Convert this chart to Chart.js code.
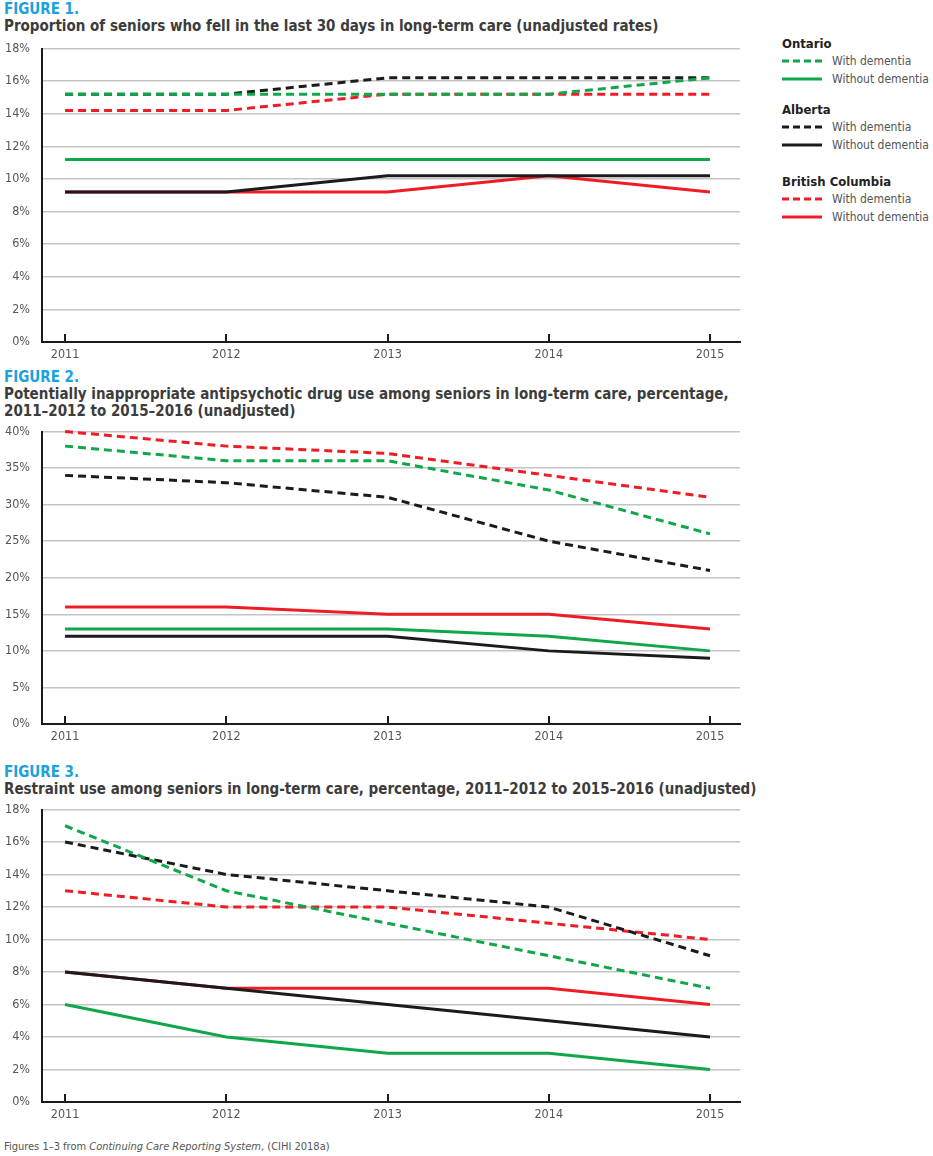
<!DOCTYPE html>
<html lang="en">
<head>
<meta charset="UTF-8">
<title>Seniors in long-term care</title>
<script src="https://cdn.jsdelivr.net/npm/chart.js"></script>
<style>
    body {
        margin: 0;
        background: #fff;
        font-family: 'DejaVu Sans Condensed', 'Roboto', sans-serif;
    }
    .page { position: relative; width: 933px; height: 1156px; }
    .fig-num {
        position: absolute; left: 4px;
        color: #1ba1dd; font-weight: bold; font-size: 15px;
    }
    .fig-title {
        position: absolute; left: 4px;
        color: #3c3c3c; font-weight: bold; font-size: 15px; line-height: 17px;
    }
    .chart-box { position: absolute; left: 0; width: 750px; }
    /* legend */
    .legend { position: absolute; left: 782px; top: 36px; width: 151px; }
    .legend .grp { font-weight: bold; font-size: 13px; color: #222; height: 16px; white-space: nowrap; }
    .legend .item { height: 18px; font-size: 12px; color: #555; display: flex; align-items: center; white-space: nowrap; }
    .legend .item svg { width: 42px; height: 6px; margin-right: 8px; flex: none; }
    .footer { position: absolute; left: 4px; top: 1140px; font-size: 11px; color: #555; }
</style>
</head>
<body>
<div class="page">
    <div class="fig-num" style="top:0px">FIGURE 1.</div>
    <div class="fig-title" style="top:18px">Proportion of seniors who fell in the last 30 days in long-term care (unadjusted rates)</div>
    <div class="chart-box" style="top:29px;height:338px"><canvas id="fig1"></canvas></div>

    <div class="fig-num" style="top:368px">FIGURE 2.</div>
    <div class="fig-title" style="top:386px">Potentially inappropriate antipsychotic drug use among seniors in long-term care, percentage,<br>2011–2012 to 2015–2016 (unadjusted)</div>
    <div class="chart-box" style="top:412px;height:337px"><canvas id="fig2"></canvas></div>

    <div class="fig-num" style="top:763px">FIGURE 3.</div>
    <div class="fig-title" style="top:781px">Restraint use among seniors in long-term care, percentage, 2011–2012 to 2015–2016 (unadjusted)</div>
    <div class="chart-box" style="top:790px;height:337px"><canvas id="fig3"></canvas></div>

    <div class="legend" id="legend"></div>

    <div class="footer">Figures 1–3 from <i>Continuing Care Reporting System</i>, (CIHI 2018a)</div>
</div>

<script>
    // data
    const years = [2011, 2012, 2013, 2014, 2015];
    const provinces = ['Ontario', 'Alberta', 'British Columbia'];
    const groups = ['With dementia', 'Without dementia'];

    // Figure 1 - falls (%)
    const fallsOnWith = [15.2, 15.2, 15.2, 15.2, 16.2];
    const fallsOnWithout = [11.2, 11.2, 11.2, 11.2, 11.2];
    const fallsAbWith = [15.2, 15.2, 16.2, 16.2, 16.2];
    const fallsAbWithout = [9.2, 9.2, 10.2, 10.2, 10.2];
    const fallsBcWith = [14.2, 14.2, 15.2, 15.2, 15.2];
    const fallsBcWithout = [9.2, 9.2, 9.2, 10.2, 9.2];

    // Figure 2 - antipsychotic use (%)
    const drugOnWith = [38, 36, 36, 32, 26];
    const drugOnWithout = [13, 13, 13, 12, 10];
    const drugAbWith = [34, 33, 31, 25, 21];
    const drugAbWithout = [12, 12, 12, 10, 9];
    const drugBcWith = [40, 38, 37, 34, 31];
    const drugBcWithout = [16, 16, 15, 15, 13];

    // Figure 3 - restraint use (%)
    const restOnWith = [17, 13, 11, 9, 7];
    const restOnWithout = [6, 4, 3, 3, 2];
    const restAbWith = [16, 14, 13, 12, 9];
    const restAbWithout = [8, 7, 6, 5, 4];
    const restBcWith = [13, 12, 12, 11, 10];
    const restBcWithout = [8, 7, 7, 7, 6];

    const colors = { 'Ontario': '#10a64a', 'Alberta': '#1b1b1b', 'British Columbia': '#ee1d25' };
    const dash = [8, 5];
    const tickFont = { family: "'DejaVu Sans Condensed', sans-serif", size: 12.5 };

    // small tick marks pointing up from the x axis
    const upTicks = {
        id: 'upTicks',
        afterDraw(chart) {
            const x = chart.scales.x, ctx = chart.ctx;
            const bottom = chart.chartArea.bottom;
            ctx.save();
            ctx.strokeStyle = '#1b1b1b';
            ctx.lineWidth = 2;
            years.forEach(v => {
                const px = Math.round(x.getPixelForValue(v));
                ctx.beginPath();
                ctx.moveTo(px, bottom);
                ctx.lineTo(px, bottom - 8);
                ctx.stroke();
            });
            ctx.restore();
        }
    };

    function makeChart(id, series, yMax, yStep) {
        // series: [[province, group, values], ...] first one is drawn on top
        const datasets = series.map(([prov, grp, vals]) => ({
            label: prov + ' - ' + grp,
            data: years.map((y, i) => ({ x: y, y: vals[i] })),
            borderColor: colors[prov],
            borderWidth: 3,
            borderDash: grp === 'With dementia' ? dash : [],
            pointRadius: 0,
            tension: 0,
            fill: false,
            clip: false
        }));

        return new Chart(document.getElementById(id), {
            type: 'line',
            data: { datasets },
            plugins: [upTicks],
            options: {
                responsive: true,
                maintainAspectRatio: false,
                animation: false,
                layout: { padding: { top: 0, right: 10, left: 0, bottom: 0 } },
                plugins: { legend: { display: false }, tooltip: { enabled: false } },
                scales: {
                    x: {
                        type: 'linear',
                        min: 2010.857,
                        max: 2015.186,
                        afterBuildTicks: s => { s.ticks = years.map(v => ({ value: v })); },
                        afterFit: s => { s.height = 25; },
                        grid: { display: false, drawTicks: false },
                        border: { display: true, color: '#1b1b1b', width: 2 },
                        ticks: {
                            padding: 5,
                            color: '#555',
                            font: tickFont,
                            callback: v => String(v),
                            maxRotation: 0
                        }
                    },
                    y: {
                        min: 0,
                        max: yMax,
                        afterFit: s => { s.width = 42; },
                        grid: { color: '#c4c4c4', lineWidth: 1.5, drawTicks: false },
                        border: { display: true, color: '#1b1b1b', width: 2 },
                        ticks: {
                            stepSize: yStep,
                            padding: 12,
                            color: '#555',
                            font: tickFont,
                            callback: v => v + '%'
                        }
                    }
                }
            }
        });
    }

    makeChart('fig1', [
        ['Ontario', 'With dementia', fallsOnWith],
        ['Ontario', 'Without dementia', fallsOnWithout],
        ['Alberta', 'With dementia', fallsAbWith],
        ['Alberta', 'Without dementia', fallsAbWithout],
        ['British Columbia', 'With dementia', fallsBcWith],
        ['British Columbia', 'Without dementia', fallsBcWithout]
    ], 18, 2);

    makeChart('fig2', [
        ['Ontario', 'With dementia', drugOnWith],
        ['Ontario', 'Without dementia', drugOnWithout],
        ['Alberta', 'With dementia', drugAbWith],
        ['Alberta', 'Without dementia', drugAbWithout],
        ['British Columbia', 'With dementia', drugBcWith],
        ['British Columbia', 'Without dementia', drugBcWithout]
    ], 40, 5);

    makeChart('fig3', [
        ['Ontario', 'With dementia', restOnWith],
        ['Ontario', 'Without dementia', restOnWithout],
        ['Alberta', 'With dementia', restAbWith],
        ['Alberta', 'Without dementia', restAbWithout],
        ['British Columbia', 'With dementia', restBcWith],
        ['British Columbia', 'Without dementia', restBcWithout]
    ], 18, 2);

    // shared legend
    const legend = document.getElementById('legend');
    const gaps = [0, 14, 20];
    provinces.forEach((p, k) => {
        const g = document.createElement('div');
        g.className = 'grp';
        g.style.marginTop = gaps[k] + 'px';
        g.textContent = p;
        legend.appendChild(g);
        groups.forEach(grp => {
            const it = document.createElement('div');
            it.className = 'item';
            const da = grp === 'With dementia' ? 'stroke-dasharray="7,4"' : '';
            it.innerHTML = '<svg viewBox="0 0 42 6"><line x1="0" y1="3" x2="40" y2="3" stroke="' + colors[p] +
                '" stroke-width="3" ' + da + '/></svg>' + grp;
            legend.appendChild(it);
        });
    });
</script>
</body>
</html>
